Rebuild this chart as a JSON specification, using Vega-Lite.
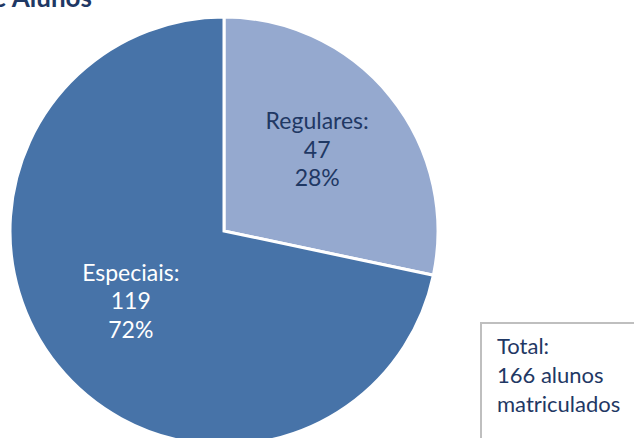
{
  "$schema": "https://vega.github.io/schema/vega-lite/v6.json",
  "width": 634,
  "height": 438,
  "autosize": "none",
  "padding": 0,
  "background": "white",
  "config": {"view": {"stroke": null}, "font": "Lato"},
  "layer": [
    {
      "data": {"values": [
        {"grupo": "Regulares", "alunos": 47, "ordem": 1, "rotulo": "Regulares:\n47\n28%"},
        {"grupo": "Especiais", "alunos": 119, "ordem": 2, "rotulo": "Especiais:\n119\n72%"}
      ]},
      "layer": [
        {
          "mark": {"type": "arc", "x": 224, "y": 231, "outerRadius": 214, "stroke": "white", "strokeWidth": 3},
          "encoding": {
            "theta": {"field": "alunos", "type": "quantitative", "stack": true},
            "order": {"field": "ordem", "type": "quantitative"},
            "color": {"field": "grupo", "type": "nominal", "legend": null,
              "scale": {"domain": ["Regulares", "Especiais"], "range": ["#95A9CF", "#4773A8"]}}
          }
        },
        {
          "mark": {"type": "text", "x": 224, "y": 231, "radius": 120, "dy": -33, "lineBreak": "\n", "lineHeight": 28.5, "fontSize": 23, "font": "Lato", "align": "center", "baseline": "middle"},
          "encoding": {
            "theta": {"field": "alunos", "type": "quantitative", "stack": true},
            "order": {"field": "ordem", "type": "quantitative"},
            "text": {"field": "rotulo", "type": "nominal"},
            "color": {"condition": {"test": "datum.grupo === 'Regulares'", "value": "#1F3864"}, "value": "white"}
          }
        }
      ]
    },
    {
      "data": {"values": [{"titulo": "Número de Alunos"}]},
      "mark": {"type": "text", "x": 92, "y": 7, "align": "right", "baseline": "alphabetic", "fontSize": 26, "fontWeight": "bold", "font": "Lato", "color": "#1F3864"},
      "encoding": {"text": {"field": "titulo", "type": "nominal"}}
    },
    {
      "data": {"values": [{"caixa": 1}]},
      "mark": {"type": "rect", "x": 481, "y": 323, "x2": 650, "y2": 460, "fill": "white", "stroke": "#BFBFBF", "strokeWidth": 2},
      "encoding": {}
    },
    {
      "data": {"values": [{"nota": "Total:\n166 alunos\nmatriculados"}]},
      "mark": {"type": "text", "x": 497, "y": 347, "align": "left", "baseline": "middle", "lineBreak": "\n", "lineHeight": 29, "fontSize": 22, "font": "Lato", "color": "#1F3864"},
      "encoding": {"text": {"field": "nota", "type": "nominal"}}
    }
  ]
}
